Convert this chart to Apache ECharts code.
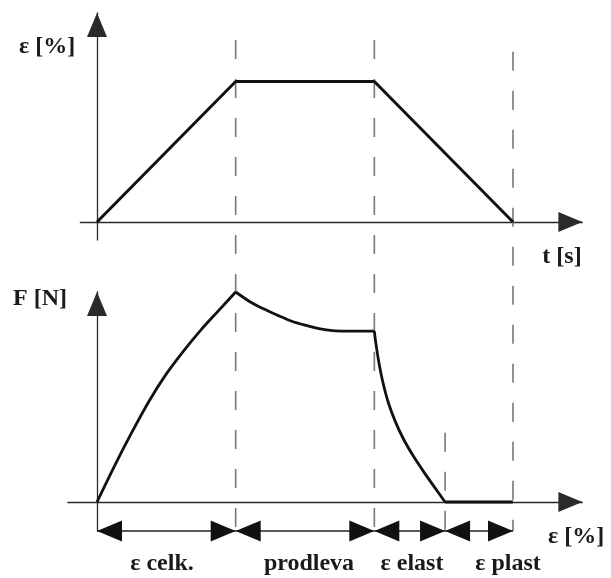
<!DOCTYPE html>
<html>
<head>
<meta charset="utf-8">
<script src="https://cdn.jsdelivr.net/npm/echarts@6/dist/echarts.min.js"></script>
<style>
  html, body { margin: 0; padding: 0; background: #fff; }
  #chart { width: 611px; height: 578px; }
</style>
</head>
<body>
<div id="chart"></div>
<script>
// Phase boundaries on the shared time / strain axis
const phaseBounds = [0, 1, 2, 2.51, 3];
const segmentNames = ['ε celk.', 'prodleva', 'ε elast', 'ε plast'];

// Upper diagram: imposed strain vs. time (ramp, hold, unload)
const strainT = [0, 1, 2, 3];
const strainV = [0, 1, 1, 0];

// Lower diagram: force response
// loading branch
const loadX = [0, 0.125, 0.25, 0.375, 0.5, 0.625, 0.75, 0.875, 1.0];
const loadF = [0, 1.7, 3.3, 4.8, 6.1, 7.2, 8.2, 9.1, 10];
// relaxation during the hold
const holdX = [1.0, 1.1, 1.2, 1.3, 1.4, 1.5, 1.6, 1.7, 1.8, 2.0];
const holdF = [10, 9.55, 9.2, 8.9, 8.62, 8.42, 8.26, 8.16, 8.14, 8.14];
// elastic unloading
const unloadX = [2.0, 2.01, 2.03, 2.06, 2.10, 2.15, 2.21, 2.28, 2.36, 2.44, 2.51];
const unloadF = [8.14, 7.6, 6.75, 5.75, 4.75, 3.85, 3.0, 2.2, 1.4, 0.65, 0];
// remaining plastic strain at zero force
const residX = [2.51, 3.0];
const residF = [0, 0];

// ---- layout ----
const X0 = 97, XU = 138.67;          // pixel of x = 0, pixels per x unit
function gridBox(xMin, xMax, topPx, bottomPx) {
  return { left: X0 + xMin * XU, width: (xMax - xMin) * XU, top: topPx, height: bottomPx - topPx };
}
const ARROW_F = -1.38;               // level of the dimension arrows (bottom end of the F axis)
const guideTops = [1, 1, 0.2, 0.976]; // where each dashed guide starts (fraction of overlay height)

const zip = (xs, ys) => xs.map((x, i) => [x, ys[i]]);
const INK = '#111';
const FONT = 'bold 24px "Liberation Serif", "DejaVu Serif", serif';

const arrowAxisLine = {
  onZero: true,
  symbol: ['none', 'triangle'],
  symbolSize: [20, 24],
  symbolOffset: [0, -12],
  lineStyle: { color: '#2a2a2a', width: 1.3 }
};
function valueAxis(gridIndex, min, max, withLine) {
  return {
    type: 'value', gridIndex, min, max,
    axisLine: withLine ? arrowAxisLine : { show: false },
    axisTick: { show: false }, axisLabel: { show: false }, splitLine: { show: false }
  };
}

const series = [];

// dashed phase guides through both diagrams
phaseBounds.slice(1).forEach((b, i) => {
  series.push({
    type: 'line', xAxisIndex: 2, yAxisIndex: 2, z: 1,
    data: [[b, guideTops[i]], [b, 0]],
    showSymbol: false, silent: true, clip: false,
    lineStyle: { color: '#777', width: 1.6, type: [19, 20] }
  });
});

// strain vs time
series.push({
  type: 'line', xAxisIndex: 0, yAxisIndex: 0, z: 4,
  data: zip(strainT, strainV), showSymbol: false,
  lineStyle: { color: INK, width: 3 }
});

// force response pieces
[[loadX, loadF, 0.3], [holdX, holdF, 0.3], [unloadX, unloadF, 0.3], [residX, residF, 0]].forEach(([xs, ys, sm]) => {
  series.push({
    type: 'line', xAxisIndex: 1, yAxisIndex: 1, z: 4,
    data: zip(xs, ys), showSymbol: false, smooth: sm,
    lineStyle: { color: INK, width: 2.8 }
  });
});

// double-headed dimension arrows for each phase
segmentNames.forEach((n, i) => {
  series.push({
    type: 'line', xAxisIndex: 1, yAxisIndex: 1, z: 5, clip: false,
    symbol: 'triangle', symbolSize: [21, 25], showSymbol: true,
    data: [
      { value: [phaseBounds[i], ARROW_F], symbolRotate: 90, symbolOffset: [12.5, 0] },
      { value: [phaseBounds[i + 1], ARROW_F], symbolRotate: -90, symbolOffset: [-12.5, 0] }
    ],
    itemStyle: { color: INK, borderWidth: 0 },
    lineStyle: { color: '#222', width: 1.3 }
  });
});

function label(text, x, y) {
  return { type: 'text', x, y, z: 10,
    style: { text, font: FONT, fill: '#1a1a1a', align: 'center', verticalAlign: 'middle' } };
}

const chart = echarts.init(document.getElementById('chart'), null, { renderer: 'canvas' });
chart.setOption({
  animation: false,
  backgroundColor: '#fff',
  grid: [
    gridBox(-0.12, 3.5, 13, 240),
    gridBox(-0.21, 3.5, 292, 531),
    gridBox(-0.21, 3.5, 40, 531)
  ],
  xAxis: [
    valueAxis(0, -0.12, 3.5, true),
    valueAxis(1, -0.21, 3.5, true),
    Object.assign(valueAxis(2, -0.21, 3.5, false), { show: false })
  ],
  yAxis: [
    valueAxis(0, -0.128, 1.4875, true),
    valueAxis(1, ARROW_F, 10, true),
    Object.assign(valueAxis(2, 0, 1, false), { show: false })
  ],
  series,
  graphic: [
    label('ε [%]', 47, 47),
    label('t [s]', 562, 257),
    label('F [N]', 40, 299),
    label('ε [%]', 576, 537),
    label(segmentNames[0], 162, 564),
    label(segmentNames[1], 309, 564),
    label(segmentNames[2], 412, 564),
    label(segmentNames[3], 508, 564)
  ]
});
</script>
</body>
</html>
